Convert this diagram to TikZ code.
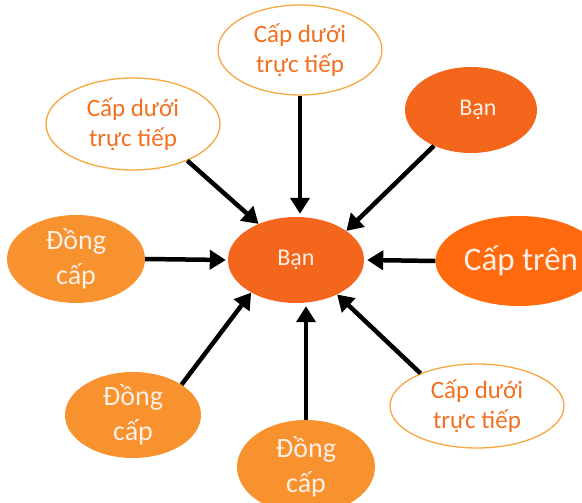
\documentclass[tikz,border=0pt]{standalone}
\usepackage{fontspec}
\setmainfont{Carlito}
\usetikzlibrary{shapes.geometric,arrows.meta}

\definecolor{youfill}{HTML}{F4661B}
\definecolor{bossfill}{HTML}{FF6A0E}
\definecolor{peerfill}{HTML}{F7922E}
\definecolor{subline}{HTML}{F7A740}
\definecolor{subtext}{HTML}{F2701F}
\definecolor{lighttext}{HTML}{FCEFE6}

\tikzset{
  blob/.style={ellipse, inner sep=0pt, align=center},
  you/.style={blob, fill=youfill, text=lighttext, font=\fontsize{24}{28}\selectfont},
  boss/.style={blob, fill=bossfill, text=lighttext, font=\fontsize{33}{38}\selectfont},
  peer/.style={blob, fill=peerfill, text=lighttext, font=\fontsize{28}{35}\selectfont},
  sub/.style={blob, draw=subline, line width=1.3pt, fill=white, text=subtext, font=\fontsize{25}{30}\selectfont},
  link/.style={line width=4.5pt, line cap=butt, -{Triangle[width=19pt,length=16pt]}}
}

\begin{document}
\begin{tikzpicture}[x=1pt, y=-1pt]
  \useasboundingbox (0,0) rectangle (582,503);

  % centre
  \node[you, minimum width=136pt, minimum height=86pt] (c) at (296,260) {Bạn};

  % surrounding roles
  \node[sub, minimum width=164pt, minimum height=90pt] (t) at (300,50) {Cấp dưới\\trực tiếp};
  \node[sub, minimum width=174pt, minimum height=92pt] (ul) at (133,124) {Cấp dưới\\trực tiếp};
  \node[you, minimum width=132pt, minimum height=86pt] (tr) at (471,110) {\hspace*{14pt}Bạn};
  \node[boss, minimum width=144pt, minimum height=90pt] (ct) at (519,261) {\hspace*{4pt}Cấp trên};
  \node[peer, minimum width=138pt, minimum height=88pt] (l) at (76,259) {Đồng\\cấp};
  \node[peer, minimum width=136pt, minimum height=86pt] (ll) at (133,415) {Đồng\\cấp};
  \node[peer, minimum width=138pt, minimum height=94pt] (b) at (306,467) {Đồng\\cấp};
  \node[sub, minimum width=174pt, minimum height=84pt] (lr) at (477,406) {Cấp dưới\\trực tiếp};

  % arrows into the centre
  \draw[link] (ul.-34) -- (c.136);
  \draw[link] (t.south) -- ([yshift=3pt]t.south |- c.north);
  \draw[link] (tr.224) -- (c.30);
  \draw[link] (ct.west) -- ([xshift=3pt]c.east);
  \draw[link] (lr.150) -- (c.-40);
  \draw[link] (b.north) -- ([yshift=-3pt]b.north |- c.south);
  \draw[link] (ll.32) -- (c.-144);
  \draw[link] (l.east) -- ([xshift=-2pt]c.west);
\end{tikzpicture}
\end{document}
